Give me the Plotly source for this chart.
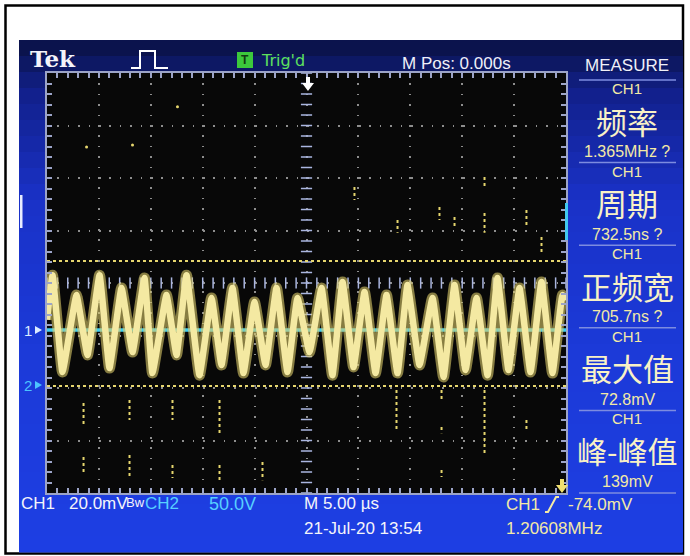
import numpy as np
import plotly.graph_objects as go

# CH1 trace: time in us (5 us/div), level in mV (20 mV/div)
peak_t = [-24.47, -22.16, -19.94, -17.82, -15.61, -13.49, -11.56, -9.15,
          -7.13, -5.01, -2.89, -0.87, 1.45, 3.47, 5.59, 7.71,
          9.73, 12.14, 14.26, 16.38, 18.40, 20.52, 22.64, 24.66]
peak_mv = [3.0, -4.6, 3.0, -1.9, 1.9, -4.6, 3.0, -5.7,
           -1.9, -7.2, -1.9, -5.7, -1.9, 0.4, -3.4, -4.6,
           -0.8, -5.7, -0.8, -5.7, 1.9, -1.9, 0.4, -4.6]
trough_t = [-23.51, -21.10, -18.98, -16.76, -14.84, -12.52, -10.31, -8.19,
            -6.07, -3.95, -1.83, 0.29, 2.50, 4.53, 6.65, 8.77,
            10.89, 13.20, 15.32, 17.44, 19.46, 21.58, 23.70]
trough_mv = [-33.9, -27.4, -32.4, -26.3, -34.3, -27.4, -35.1, -31.2,
             -34.3, -31.2, -33.9, -26.3, -35.1, -32.0, -34.3, -34.3,
             -31.2, -35.8, -33.1, -35.1, -33.1, -33.9, -34.3]
edge_t = [-25.0, 25.0]
edge_mv = [-14.0, -6.5]

# stray glitch streaks seen on the screen (time, top mV, bottom mV)
glitch_t = [-21.48, -21.48, -17.05, -17.05, -12.91, -12.91, -8.38, -8.38, -4.24,
            8.67, 13.01, 13.01, 13.01, 17.15, 21.19, 12.81, 14.26, 17.15, 17.15,
            21.19, 22.64, 4.62, 8.77]
glitch_top = [-45.7, -66.3, -44.6, -65.5, -44.6, -69.3, -44.6, -69.3, -68.2,
              -40.8, -40.8, -54.9, -71.2, -40.8, -52.2, 29.0, 25.1, 40.4, 26.7,
              27.8, 17.5, 36.6, 24.0]
glitch_bot = [-54.9, -72.4, -52.2, -73.9, -52.2, -74.3, -57.2, -76.2, -75.1,
              -56.0, -44.6, -57.2, -73.9, -64.8, -56.0, 24.0, 21.3, 36.6, 19.1,
              21.3, 11.4, 31.6, 19.1]
spot_t = [-12.43, -16.76, -21.19]
spot_mv = [67.1, 52.6, 51.8]

ch2_mv = -17.9              # cyan CH2 trace
dotted_mv = [8.4, -39.2]    # yellow dotted levels

measure_names = ["频率", "周期", "正频宽", "最大值", "峰-峰值"]
measure_values = ["1.365MHz ?", "732.5ns ?", "705.7ns ?", "72.8mV", "139mV"]

SANS = "Liberation Sans, Arial, sans-serif"
CJK = "Noto Sans CJK SC"
CREAM = "#f3e9a6"
YEL = "#e6d66e"


# pixel -> paper, plot area is x 47..566, y 73..493
def px(x):
    return (x - 47) / 519


def py(y):
    return (493 - y) / 420


def path(pts, close=False):
    s = "M " + " L ".join(f"{px(x):.5f},{py(y):.5f}" for x, y in pts)
    return s + (" Z" if close else "")


wave_t = [edge_t[0]]
wave_mv = [edge_mv[0]]
for i in range(len(peak_t)):
    wave_t.append(peak_t[i])
    wave_mv.append(peak_mv[i])
    if i < len(trough_t):
        wave_t.append(trough_t[i])
        wave_mv.append(trough_mv[i])
wave_t.append(edge_t[1])
wave_mv.append(edge_mv[1])

gx, gy = [], []
for t, a, b in zip(glitch_t, glitch_top, glitch_bot):
    gx += [t, t, None]
    gy += [a, b, None]

fig = go.Figure()

# center graticule ticks
xt = np.arange(-25, 25.01, 1)
yt = np.arange(-80, 80.01, 4)
fig.add_trace(go.Scatter(x=xt, y=np.zeros_like(xt), mode="markers", hoverinfo="skip",
                         marker=dict(symbol="line-ns", size=8, line=dict(color="#aab6e0", width=1.5))))
fig.add_trace(go.Scatter(x=np.zeros_like(yt), y=yt, mode="markers", hoverinfo="skip",
                         marker=dict(symbol="line-ew", size=8, line=dict(color="#aab6e0", width=1.5))))

fig.add_trace(go.Scatter(x=gx, y=gy, mode="lines", hoverinfo="skip",
                         line=dict(color=YEL, width=2, dash="dot")))
fig.add_trace(go.Scatter(x=spot_t, y=spot_mv, mode="markers", hoverinfo="skip",
                         marker=dict(color=YEL, size=3)))

for lvl in dotted_mv:
    fig.add_trace(go.Scatter(x=edge_t, y=[lvl, lvl], mode="lines", hoverinfo="skip",
                             line=dict(color=YEL, width=2, dash="dot")))

fig.add_trace(go.Scatter(x=edge_t, y=[ch2_mv, ch2_mv], mode="lines",
                         line=dict(color="#3fcdf0", width=3.5), name="CH2"))

fig.add_trace(go.Scatter(x=wave_t, y=wave_mv, mode="lines", hoverinfo="skip",
                         line=dict(color="#dccc6a", width=11, shape="spline", smoothing=0.3),
                         opacity=0.6))
fig.add_trace(go.Scatter(x=wave_t, y=wave_mv, mode="lines", name="CH1",
                         line=dict(color="#f4e9a2", width=6.5, shape="spline", smoothing=0.3)))

shapes = []
# photo frame
shapes.append(dict(type="rect", xref="paper", yref="paper", x0=px(5.5), x1=px(683), y0=py(5.5), y1=py(553.5),
                   line=dict(color="black", width=2.5), fillcolor="white", layer="below"))
# screen blue, dark at the top going brighter downwards
stops_y = [40, 90, 200, 350, 552]
stops_rgb = [(10, 17, 66), (18, 32, 138), (26, 50, 200), (28, 58, 216), (30, 63, 228)]
bands = np.linspace(40, 552, 33)
for y0, y1 in zip(bands[:-1], bands[1:]):
    m = (y0 + y1) / 2
    rgb = [int(np.interp(m, stops_y, [c[k] for c in stops_rgb])) for k in range(3)]
    shapes.append(dict(type="rect", xref="paper", yref="paper", x0=px(19), x1=px(683),
                       y0=py(y0), y1=py(y1 + 0.6), line=dict(width=0),
                       fillcolor=f"rgb({rgb[0]},{rgb[1]},{rgb[2]})", layer="below"))
# black graticule area
shapes.append(dict(type="rect", xref="paper", yref="paper", x0=0, x1=1, y0=0, y1=1,
                   fillcolor="#080808", line=dict(width=0), layer="below"))

# measure panel separators
sep_y = [80, 162.6, 245.2, 327.8, 410.4, 493]
for y in sep_y:
    shapes.append(dict(type="line", xref="paper", yref="paper", x0=px(579), x1=px(676),
                       y0=py(y), y1=py(y), line=dict(color="#7d8ce0", width=1.5)))

# pulse icon, trigger box and arrows
shapes.append(dict(type="path", xref="paper", yref="paper",
                   path=path([(131, 68), (140, 68), (140, 51), (155, 51), (155, 68), (168, 68)]),
                   line=dict(color="white", width=2)))
shapes.append(dict(type="rect", xref="paper", yref="paper", x0=px(237), x1=px(253), y0=py(52), y1=py(68),
                   fillcolor="#3cc83c", line=dict(width=0)))
shapes.append(dict(type="path", xref="paper", yref="paper",
                   path=path([(306, 77), (310, 77), (310, 83), (314, 83), (308, 91), (302, 83), (306, 83)], True),
                   fillcolor="white", line=dict(width=0)))
shapes.append(dict(type="path", xref="paper", yref="paper",
                   path=path([(560, 479), (564, 479), (564, 485), (568, 485), (562, 493), (556, 485), (560, 485)], True),
                   fillcolor="#f0e070", line=dict(width=0)))
shapes.append(dict(type="path", xref="paper", yref="paper",
                   path=path([(545, 512), (548, 512), (556, 497), (559, 497)]),
                   line=dict(color=CREAM, width=2)))
# channel markers and offset bars
for yy, col in [(330, "#dcecff"), (385, "#4cc4ff")]:
    shapes.append(dict(type="path", xref="paper", yref="paper",
                       path=path([(35, yy - 4), (42, yy), (35, yy + 4)], True),
                       fillcolor=col, line=dict(width=0)))
shapes.append(dict(type="rect", xref="paper", yref="paper", x0=px(20), x1=px(22.5), y0=py(195), y1=py(228),
                   fillcolor="#e8ecff", line=dict(width=0)))
shapes.append(dict(type="rect", xref="paper", yref="paper", x0=px(565), x1=px(568), y0=py(203), y1=py(240),
                   fillcolor="#40c8f0", line=dict(width=0)))

ann = []


def label(text, x, y, size, color, anchor="left", family=SANS):
    ann.append(dict(text=text, x=px(x), y=py(y), xref="paper", yref="paper", showarrow=False,
                    xanchor=anchor, yanchor="middle", font=dict(family=family, size=size, color=color)))


label("<b>Tek</b>", 28, 59, 23, "#f4f4fa", family="DejaVu Serif, Liberation Serif, serif")
label("<b>T</b>", 245, 60, 12, "#103a10", anchor="center")
label("Trig'd", 259, 60, 16, "#5ee05e", family="DejaVu Sans, sans-serif")
label("M Pos: 0.000s", 400, 63, 17, "#f0f0f8")
label("MEASURE", 627, 65, 17, "#f0f0f8", anchor="center")

for i in range(len(measure_names)):
    top = sep_y[i]
    label("CH1", 627, top + 8.5, 15, CREAM, anchor="center")
    label(measure_names[i], 627, top + 40, 30 if len(measure_names[i]) > 3 else 31, "#f8f1c6",
          anchor="center", family=CJK)
    label(measure_values[i], 627, top + 71.5, 16, CREAM, anchor="center")

label("1", 22, 330, 15, "#dcecff")
label("2", 22, 385, 15, "#4cc4ff")

label("CH1", 19, 504, 17, "#f4f4fa")
label("20.0mV", 67, 504, 17, "#f4f4fa")
label("Bw", 124, 503, 13, "#f4f4fa")
label("CH2", 143, 504, 17, "#58d0ff")
label("50.0V", 207, 504, 18, "#58d0ff")
label("M 5.00 µs", 302, 504, 17, "#f4f4fa")
label("21-Jul-20 13:54", 302, 528, 17, "#f4f4fa")
label("CH1", 504, 505, 17, CREAM)
label("-74.0mV", 566, 505, 17, CREAM)
label("1.20608MHz", 504, 528, 17, CREAM)

axis_common = dict(showticklabels=False, zeroline=False, showline=True, linecolor="#9ca4c8",
                   linewidth=1.5, mirror="ticks", ticks="inside", ticklen=5, tickcolor="#9ca4c8",
                   tickwidth=1.5, showgrid=True, gridcolor="#8e8e8e", gridwidth=1.6, fixedrange=True)

fig.update_layout(
    width=690, height=556, autosize=False,
    margin=dict(l=47, r=124, t=73, b=63, pad=0),
    paper_bgcolor="white", plot_bgcolor="#080808",
    showlegend=False,
    shapes=shapes, annotations=ann,
    xaxis=dict(range=[-25, 25], dtick=5, griddash="1.6px,8.8px",
               minor=dict(dtick=1, ticks="inside", ticklen=5, tickcolor="#9ca4c8", showgrid=False),
               **axis_common),
    yaxis=dict(range=[-80, 80], dtick=20, griddash="1.6px,8.8px",
               minor=dict(dtick=4, ticks="inside", ticklen=5, tickcolor="#9ca4c8", showgrid=False),
               **axis_common),
)

# the page body has a default 8px margin; drop it so the figure sits at the corner
fig.write_html("out.html", config={"displayModeBar": False},
               post_script="document.body.style.margin='0';")
